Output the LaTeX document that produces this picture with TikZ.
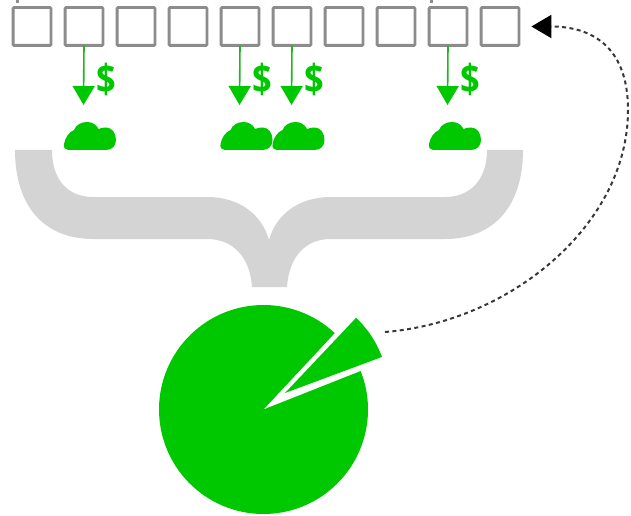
\documentclass[tikz,border=0pt]{standalone}
\usepackage{fontspec}
\setmainfont{Open Sans}
\usetikzlibrary{arrows.meta}
\definecolor{pgreen}{RGB}{0,200,0}
\definecolor{pgray}{RGB}{212,212,212}
\definecolor{boxgray}{RGB}{140,140,140}
\tikzset{
  cellbox/.style={draw=boxgray,line width=2.8pt,fill=white,minimum size=37.8pt,inner sep=0pt,outer sep=0pt,rounded corners=0.8pt},
  payarrow/.style={draw=pgreen!75!gray,line width=1.6pt,-{Triangle[width=22pt,length=19pt,color=pgreen,fill=pgreen]}},
  dollar/.style={text=pgreen,font=\bfseries\fontsize{40}{40}\selectfont,inner sep=0pt,xscale=0.86},
  returnline/.style={draw=black!78,line width=2pt,dash pattern=on 4pt off 3.4pt,shorten >=12.5pt,-{Triangle[width=23pt,length=20pt,color=black,fill=black]}},
  greencloud/.pic={
    \fill[pgreen] (4,0) -- (42,0) .. controls (48,0) and (52,4) .. (52,10)
      .. controls (52,17) and (48,22.5) .. (42,22.5) .. controls (39,22.5) and (36.5,22) .. (34.5,21)
      .. controls (32.5,25.5) and (28,28) .. (23,28) .. controls (17,28) and (12,25) .. (10,20)
      .. controls (5,18) and (1,12) .. (0,6) .. controls (-0.5,2.5) and (1,0) .. (4,0) -- cycle;
  }
}
\begin{document}
\begin{tikzpicture}[x=1pt,y=1pt]
\useasboundingbox (0,0) rectangle (631,515);
% boxes
\foreach \i in {0,...,9}{
  \pgfmathsetmacro{\bx}{32+52*\i}
  \node[cellbox] (b\i) at (\bx,488.5) {};
}
% small marks at the top edge
\fill[boxgray] (16,515) rectangle (19,512);
\fill[boxgray] (430,515) rectangle (433,512);
% arrow ends
\coordinate (e1) at (83.5,410);
\coordinate (e4) at (239.5,410);
\coordinate (e5) at (291.5,410);
\coordinate (e8) at (447.5,410);
\draw[payarrow] (b1.south) -- (e1);
\draw[payarrow] (b4.south) -- (e4);
\draw[payarrow] (b5.south) -- (e5);
\draw[payarrow] (b8.south) -- (e8);
\node[dollar] (d1) at (106.5,435.5) {\$};
\node[dollar] (d4) at (262.5,435.5) {\$};
\node[dollar] (d5) at (314.5,435.5) {\$};
\node[dollar] (d8) at (470.5,435.5) {\$};
% clouds
\pic at (64,365) {greencloud};
\pic at (220.5,365) {greencloud};
\pic at (272.5,365) {greencloud};
\pic at (429,365) {greencloud};
% brace
\fill[pgray] (15,365) -- (52,365)
  .. controls (52,335) and (68,318) .. (93,318)
  -- (207,318) .. controls (240,318) and (262,300) .. (269,275)
  .. controls (276,300) and (298,318) .. (331,318)
  -- (445,318) .. controls (470,318) and (487,335) .. (487,365)
  -- (523,365)
  .. controls (523,310) and (495,276) .. (445,276)
  -- (331,276) .. controls (305,276) and (289,258) .. (287,228)
  -- (252,228) .. controls (250,258) and (233,276) .. (207,276)
  -- (93,276) .. controls (43,276) and (15,310) .. (15,365) -- cycle;
% pie with removed slice
\coordinate (pc) at (263.5,105.5);
\fill[pgreen] (pc) -- ++(47:104.5) arc[start angle=47,end angle=381.6,radius=104.5pt] -- cycle;
% displaced slice
\coordinate (wt) at (285,122);
\fill[pgreen] (wt) -- ++(46.6:103.5) arc[start angle=46.6,end angle=20.4,radius=103.5pt] -- cycle;
\coordinate (ws) at (385,183);
\draw[returnline] (ws) .. controls (510,193) and (628,290) .. (628,405)
  .. controls (628,470) and (590,488.5) .. (b9.east);
\end{tikzpicture}
\end{document}
